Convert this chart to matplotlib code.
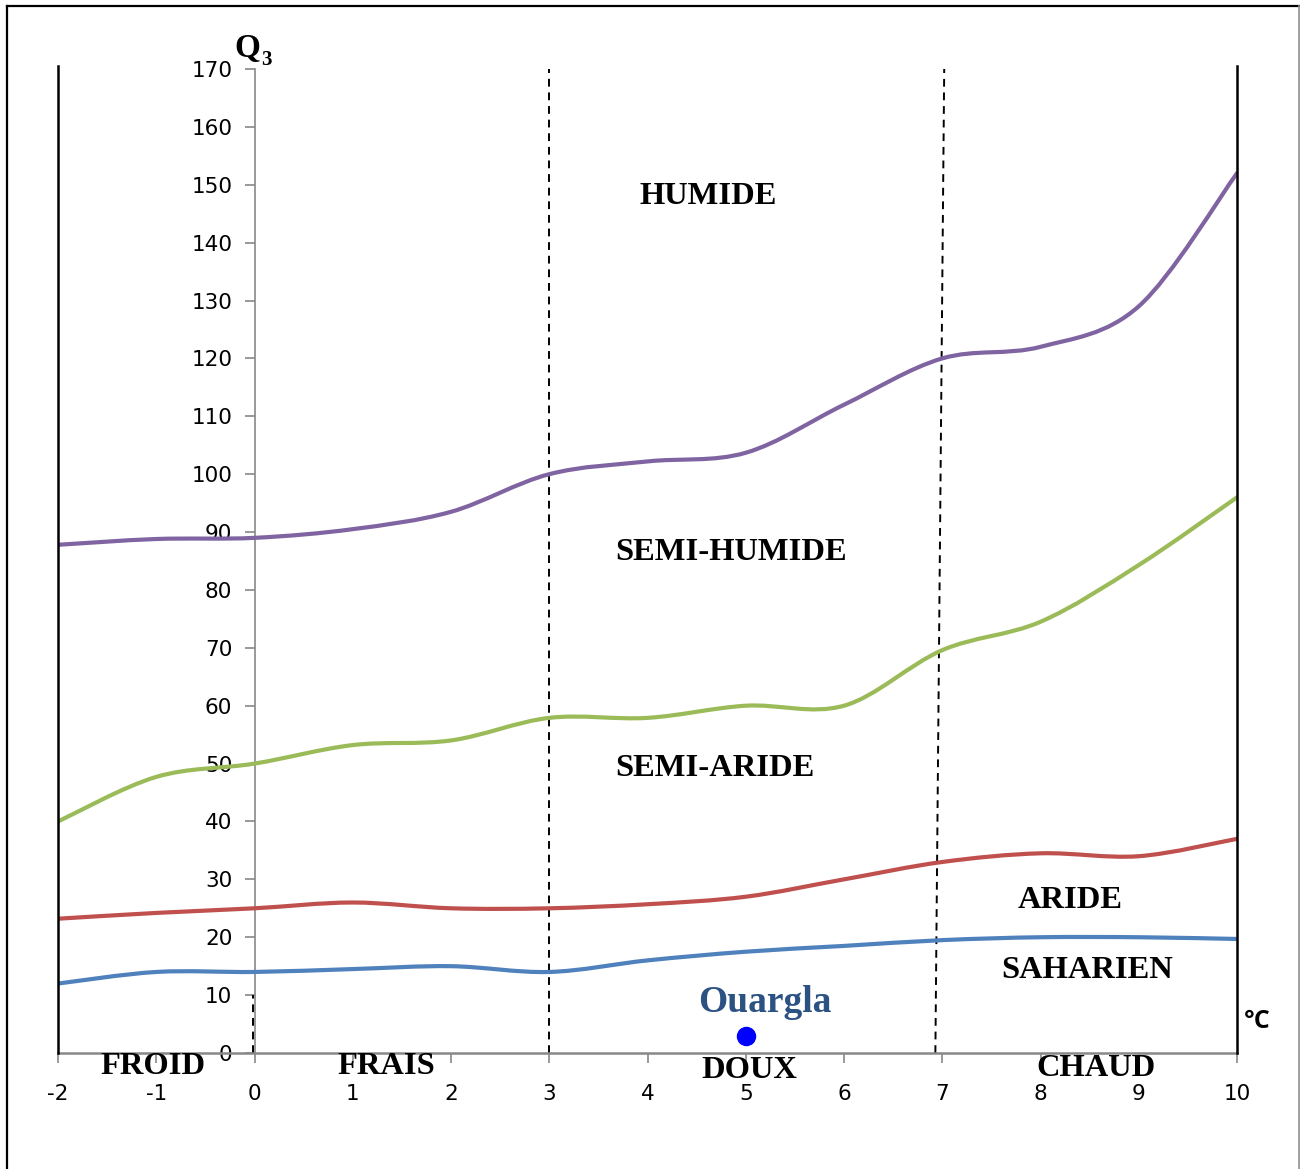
import matplotlib
matplotlib.use("Agg")
import matplotlib.pyplot as plt
from matplotlib.path import Path
from matplotlib.patches import PathPatch
from matplotlib.lines import Line2D

plt.rcParams['axes.unicode_minus'] = False

# ---- data ----
temps = [-2, -1, 0, 1, 2, 3, 4, 5, 6, 7, 8, 9, 10]
humide = [87.8, 88.8, 89.0, 90.5, 93.5, 100.0, 102.2, 103.7, 112.0, 120.0, 122.0, 129.0, 152.0]
semi_humide = [40.0, 47.7, 50.0, 53.2, 54.0, 57.9, 57.9, 60.0, 60.0, 69.6, 74.5, 84.3, 96.0]
semi_aride = [23.2, 24.2, 25.0, 26.0, 25.0, 25.0, 25.7, 27.0, 30.0, 33.0, 34.5, 34.0, 37.0]
aride = [12.0, 14.0, 14.0, 14.5, 15.0, 14.0, 16.0, 17.5, 18.5, 19.5, 20.0, 20.0, 19.7]
xticks = list(range(-2, 11))
yticks = list(range(0, 171, 10))
station_name = "Ouargla"
station_x = 5.0
station_y = 2.9

fig = plt.figure(figsize=(13, 11.69), dpi=100)
ax = fig.add_axes([58/1300, 116/1169, (1237-58)/1300, (1053-69)/1169])
ax.set_xlim(-2, 10)
ax.set_ylim(0, 170)

# figure border (top, left, right)
fig.add_artist(Line2D([7/1300, 7/1300], [0, 1-6/1169], transform=fig.transFigure, color='black', lw=1.6))
fig.add_artist(Line2D([7/1300, 1298.5/1300], [1-6/1169, 1-6/1169], transform=fig.transFigure, color='black', lw=1.6))
fig.add_artist(Line2D([1298.5/1300, 1298.5/1300], [0, 1-6/1169], transform=fig.transFigure, color='#909090', lw=1.2))

def smooth(ax, xs, ys, color):
    n = len(xs)
    pts = list(zip(xs, ys))
    verts = [pts[0]]
    codes = [Path.MOVETO]
    for i in range(n - 1):
        p0 = pts[i - 1] if i > 0 else pts[i]
        p1 = pts[i]
        p2 = pts[i + 1]
        p3 = pts[i + 2] if i + 2 < n else pts[i + 1]
        c1 = (p1[0] + (p2[0] - p0[0]) / 6, p1[1] + (p2[1] - p0[1]) / 6)
        c2 = (p2[0] - (p3[0] - p1[0]) / 6, p2[1] - (p3[1] - p1[1]) / 6)
        verts += [c1, c2, p2]
        codes += [Path.CURVE4] * 3
    patch = PathPatch(Path(verts, codes), fill=False, edgecolor=color, lw=3.0,
                      capstyle='round', joinstyle='round', zorder=3)
    ax.add_patch(patch)

smooth(ax, temps, humide, '#8064A2')
smooth(ax, temps, semi_humide, '#9BBB59')
smooth(ax, temps, semi_aride, '#C0504D')
smooth(ax, temps, aride, '#4F81BD')

# spines
for s in ['top', 'right']:
    ax.spines[s].set_visible(False)
ax.spines['left'].set_position(('data', 0))
ax.spines['left'].set_color('#888888')
ax.spines['bottom'].set_color('#888888')
ax.spines['left'].set_linewidth(1.2)
ax.spines['bottom'].set_linewidth(1.8)

ax.set_xticks(xticks)
ax.set_yticks(yticks)
ax.tick_params(axis='both', direction='out', color='#888888', length=7, width=1.2,
               labelsize=15.5, labelcolor='black')
ax.tick_params(axis='x', pad=15)
ax.tick_params(axis='y', pad=9)
for lab in ax.get_xticklabels() + ax.get_yticklabels():
    lab.set_fontfamily('DejaVu Sans')

# boundary lines
ax.plot([-2, -2], [0, 170.6], color='black', lw=1.8, clip_on=False, zorder=4)
ax.plot([10, 10], [0, 170.6], color='black', lw=1.8, clip_on=False, zorder=4)
ax.plot([3.0, 3.0], [0, 170], color='black', lw=1.4, ls=(0, (4, 3)), clip_on=False, zorder=2)
ax.plot([6.93, 7.02], [0, 170], color='black', lw=1.4, ls=(0, (4, 3)), clip_on=False, zorder=2)
ax.plot([-0.02, -0.02], [0, 10], color='black', lw=1.4, ls=(0, (4, 3)), clip_on=False, zorder=2)

serif = 'Liberation Serif'
kw = dict(fontfamily=serif, fontweight='bold', fontsize=23.4, ha='center', va='center')
ax.text(4.616, 147.9, 'HUMIDE', **kw)
ax.text(4.85, 86.4, 'SEMI-HUMIDE', **kw)
ax.text(4.69, 49.2, 'SEMI-ARIDE', **kw)
ax.text(8.30, 26.3, 'ARIDE', **kw)
ax.text(8.47, 14.3, 'SAHARIEN', **kw)
ax.text(-1.03, -2.3, 'FROID', clip_on=False, **kw)
ax.text(1.34, -2.3, 'FRAIS', clip_on=False, **kw)
ax.text(5.04, -3.1, 'DOUX', clip_on=False, **kw)
ax.text(8.56, -2.6, 'CHAUD', clip_on=False, **kw)

ax.text(5.19, 8.8, station_name, fontfamily=serif, fontweight='bold', fontsize=27,
        color='#2B5283', ha='center', va='center')
ax.plot([station_x], [station_y], 'o', color='#0000FF', markersize=13, zorder=5, clip_on=False)

ax.text(10.21, 5.4, '°C', fontfamily='Open Sans', fontweight='bold', fontsize=18,
        ha='center', va='center', clip_on=False)
ax.text(-0.20, 170.9, 'Q', fontfamily=serif, fontweight='bold', fontsize=24,
        ha='left', va='bottom', clip_on=False)
ax.text(0.07, 169.9, '3', fontfamily=serif, fontweight='bold', fontsize=15,
        ha='left', va='bottom', clip_on=False)

fig.savefig('out.png', dpi=100)
